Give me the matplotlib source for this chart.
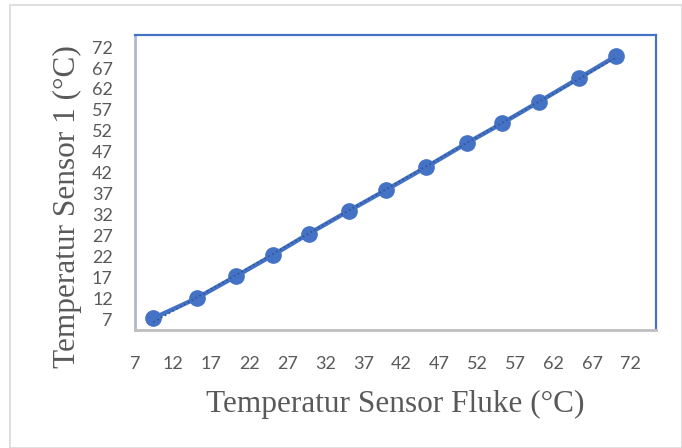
import matplotlib
matplotlib.use("Agg")
import matplotlib.pyplot as plt
from matplotlib.patches import Rectangle
import numpy as np

# readings
fluke = [9.4, 15.1, 20.3, 25.1, 29.8, 35.1, 39.9, 45.2, 50.6, 55.2, 60.0, 65.3, 70.1]
sensor1 = [7.2, 12.0, 17.3, 22.3, 27.4, 32.9, 37.8, 43.3, 49.1, 53.8, 58.9, 64.6, 69.8]
ticks = list(range(7, 73, 5))

BLUE = "#4472C4"
GRAY_TXT = "#595959"

fig = plt.figure(figsize=(6.82, 4.48), dpi=100)
# chart-area frame
fig.patches.append(Rectangle((10 / 682, 0), 1 - 10 / 682, 1 - 5 / 448, transform=fig.transFigure,
                             fill=False, ec="#D9D9D9", lw=1.2))

ax = fig.add_axes([135 / 682, 1 - 330 / 448, 521 / 682, 295 / 448])
ax.plot(fluke, sensor1, "-o", color=BLUE, lw=3.2, ms=11, zorder=3)
# dotted linear trendline
k, b = np.polyfit(fluke, sensor1, 1)
xs = np.array([fluke[0], fluke[-1]])
ax.plot(xs, k * xs + b, ":", color="#2F5597", lw=1.2, zorder=4)

ax.set_xlim(7, 75.4)
ax.set_ylim(4.4, 74.9)
ax.set_xticks(ticks)
ax.set_yticks(ticks)
ax.tick_params(length=0, labelsize=13, labelcolor=GRAY_TXT)
ax.tick_params(axis="x", pad=19)
ax.tick_params(axis="y", pad=16)
for lab in ax.get_xticklabels() + ax.get_yticklabels():
    lab.set_family("Lato")

ax.spines["left"].set_color("#AEB8CE")
ax.spines["bottom"].set_color("#BFBFBF")
ax.spines["left"].set_linewidth(2)
ax.spines["bottom"].set_linewidth(2)
ax.spines["top"].set_color(BLUE)
ax.spines["right"].set_color(BLUE)
ax.spines["top"].set_linewidth(1.6)
ax.spines["right"].set_linewidth(1.6)

fig.text(395 / 682, 1 - 404 / 448, "Temperatur Sensor Fluke (°C)", family="Liberation Serif",
         fontsize=22.5, color=GRAY_TXT, ha="center", va="center")
fig.text(67 / 682, 1 - 207 / 448, "Temperatur Sensor 1 (°C)", family="Liberation Serif",
         fontsize=22.5, color=GRAY_TXT, ha="center", va="center", rotation=90)

fig.savefig("out.png", dpi=100)
